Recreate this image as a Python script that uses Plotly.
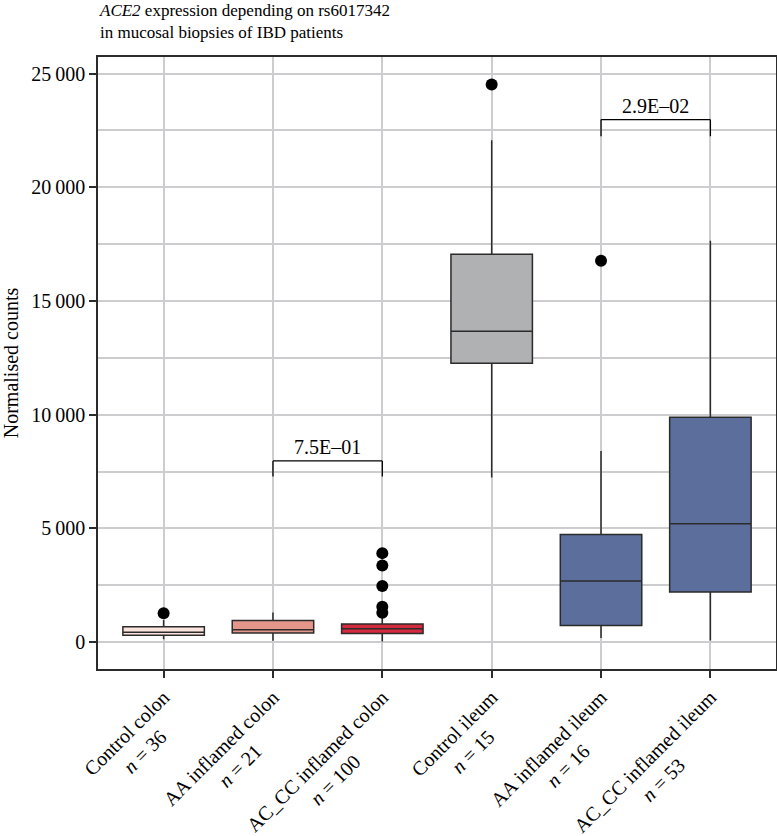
import plotly.graph_objects as go

# ---- data ----
categories = ["Control colon", "AA inflamed colon", "AC_CC inflamed colon",
              "Control ileum", "AA inflamed ileum", "AC_CC inflamed ileum"]
n_counts = [36, 21, 100, 15, 16, 53]
q1 = [300, 395, 378, 12258, 729, 2197]
median = [430, 540, 584, 13664, 2680, 5198]
q3 = [675, 949, 791, 17060, 4728, 9886]
lower_fence = [119, 57, 20, 7232, 176, 70]
upper_fence = [967, 1300, 1200, 22070, 8405, 17645]
outliers = [
    [1262],
    [],
    [3910, 3366, 2460, 1550, 1290],
    [24517],
    [16766],
    [],
]
fill_colors = ["#FBE4DD", "#E5968A", "#D42A3E", "#B0B1B3", "#5B6E9C", "#5B6E9C"]

# significance brackets
bracket_left = ["AA inflamed colon", "AA inflamed ileum"]
bracket_right = ["AC_CC inflamed colon", "AC_CC inflamed ileum"]
bracket_y = [7965, 22979]
bracket_leg = [7276, 22245]
bracket_text = ["7.5E\u201301", "2.9E\u201302"]

y_ticks = [0, 5000, 10000, 15000, 20000, 25000]

FONT = "Liberation Serif"
LINE = "#2b2b2b"
TICK_SIZE = 20

# approximate Times/Liberation Serif advance widths (per 1000 em) to centre the 2nd label line
_W = {"A": 722, "C": 667, "_": 500, " ": 250, "a": 444, "c": 444, "d": 500, "e": 444,
      "f": 333, "i": 278, "l": 278, "m": 778, "n": 500, "o": 500, "r": 333, "t": 278,
      "u": 500, "=": 564}


def _width(s):
    return sum(_W.get(ch, 500) for ch in s) * TICK_SIZE / 1000.0


tick_labels = []
for c, n in zip(categories, n_counts):
    line2 = f"n = {n}"
    shift = (_width(c) - _width(line2)) / 2.0
    pad = "\u00a0" * max(0, round(shift / (0.25 * TICK_SIZE)))
    tick_labels.append(f"{c}<br><i>n</i> = {n}{pad}")

fig = go.Figure()
for i, cat in enumerate(categories):
    fig.add_trace(go.Box(
        x=[cat], q1=[q1[i]], median=[median[i]], q3=[q3[i]],
        lowerfence=[lower_fence[i]], upperfence=[upper_fence[i]],
        fillcolor=fill_colors[i], line=dict(color=LINE, width=1.5),
        width=0.745, whiskerwidth=0, boxpoints=False, showlegend=False,
        hoverinfo="skip",
    ))
    if outliers[i]:
        fig.add_trace(go.Scatter(
            x=[cat] * len(outliers[i]), y=outliers[i], mode="markers",
            marker=dict(color="black", size=12), showlegend=False,
            hoverinfo="skip",
        ))

shapes = []
for l, r, yb, yl in zip(bracket_left, bracket_right, bracket_y, bracket_leg):
    for x0, x1, y0, y1 in [(l, r, yb, yb), (l, l, yl, yb), (r, r, yl, yb)]:
        shapes.append(dict(type="line", xref="x", yref="y", x0=x0, x1=x1, y0=y0, y1=y1,
                           line=dict(color="black", width=1.3)))
fig.update_layout(shapes=shapes)

for l, r, yb, t in zip(bracket_left, bracket_right, bracket_y, bracket_text):
    li, ri = categories.index(l), categories.index(r)
    fig.add_annotation(x=(li + ri) / 2, y=yb, xref="x", yref="y", text=t,
                       showarrow=False, yanchor="bottom", yshift=1,
                       font=dict(family=FONT, size=20, color="black"))

# title
fig.add_annotation(text="<i>ACE2</i> expression depending on rs6017342<br>in mucosal biopsies of IBD patients",
                   xref="paper", yref="paper", x=0.0, y=1.0, xanchor="left", align="left",
                   yanchor="middle", yshift=35.5, xshift=-1, showarrow=False,
                   font=dict(family=FONT, size=17, color="black"))

fig.update_layout(
    width=777, height=836,
    margin=dict(l=98, r=1, t=57, b=167, autoexpand=False),
    paper_bgcolor="white", plot_bgcolor="white",
    font=dict(family=FONT, size=20, color="black"),
    separators=".\u2009",
    xaxis=dict(
        type="category", categoryorder="array", categoryarray=categories,
        range=[-0.6, 5.6], tickvals=categories, ticktext=tick_labels,
        tickangle=-45, showgrid=True, gridcolor="#CDCDD0", gridwidth=1.5,
        showline=True, linecolor=LINE, linewidth=1.5, mirror=True,
        ticks="outside", ticklen=7, tickcolor=LINE, tickwidth=1.5,
        zeroline=False, tickfont=dict(family=FONT, size=TICK_SIZE), automargin=False,
    ),
    yaxis=dict(
        range=[-1186, 25730], tickvals=y_ticks, tickformat=",d",
        showgrid=True, gridcolor="#CDCDD0", gridwidth=1.5,
        minor=dict(dtick=2500, tick0=0, showgrid=True, gridcolor="#CDCDD0", gridwidth=1.5, ticks=""),
        showline=True, linecolor=LINE, linewidth=1.5, mirror=True,
        ticks="outside", ticklen=7, tickcolor=LINE, tickwidth=1.5,
        zeroline=False, tickfont=dict(family=FONT, size=20), automargin=False,
        title=dict(text="Normalised counts", font=dict(family=FONT, size=20), standoff=30),
    ),
)

fig.write_html("out.html", config={"displayModeBar": False},
               post_script="document.body.style.margin='0';document.body.style.overflow='hidden';")
